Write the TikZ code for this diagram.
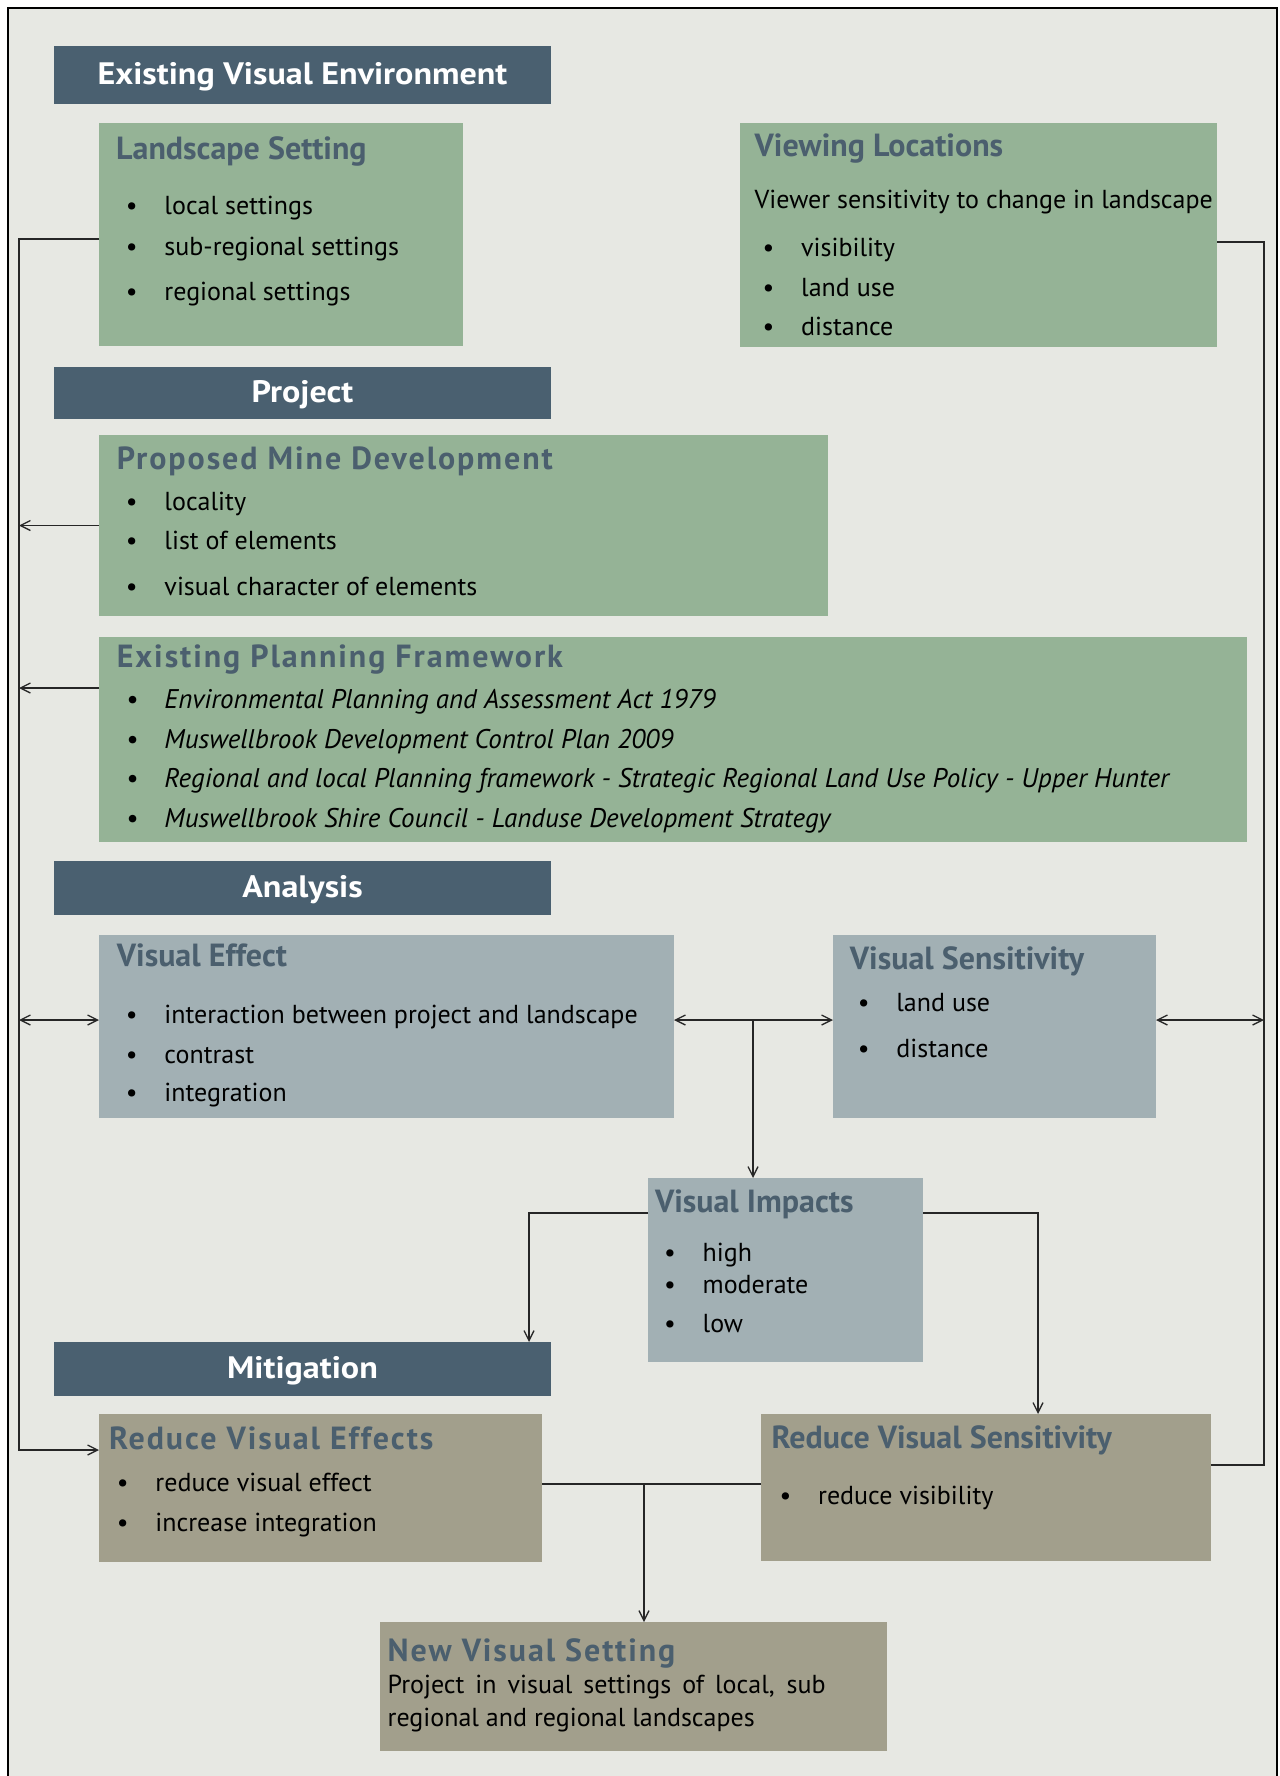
\documentclass[tikz,border=0pt]{standalone}
\usepackage{fontspec}
\setmainfont{PT Sans}
\usetikzlibrary{arrows.meta,calc}
\definecolor{bg}{HTML}{E7E8E3}
\definecolor{hdr}{HTML}{4A6070}
\definecolor{grn}{HTML}{95B396}
\definecolor{blu}{HTML}{A2B0B4}
\definecolor{kha}{HTML}{A29F8C}
\definecolor{ttl}{HTML}{4B5F6E}
\newcommand{\bul}{\makebox[38.6pt][l]{•}}
\begin{document}
\begin{tikzpicture}[x=1pt,y=-1pt,
  box/.style={anchor=north west,inner sep=0pt,outer sep=0pt,draw=none},
  hdrbox/.style={box,fill=hdr},
  hdrtxt/.style={inner sep=0pt,text=white,yshift=-2pt,font=\fontsize{31}{34}\selectfont\bfseries\addfontfeatures{FakeStretch=1.1}},
  txt/.style={anchor=mid west,inner sep=0pt,yshift=-7pt,font=\fontsize{26}{30}\selectfont},
  itx/.style={txt,font=\fontsize{27}{30}\selectfont\itshape},
  ttlt/.style={anchor=mid west,inner sep=0pt,yshift=-7pt,text=ttl,font=\fontsize{32}{36}\selectfont\bfseries},
  ttls/.style={ttlt,font=\fontsize{32}{36}\selectfont\bfseries\addfontfeatures{LetterSpace=6}},
  conn/.style={line width=1.3pt,draw=black!85},
  arr/.style={conn,-{Straight Barb[length=10pt,width=10pt]}},
  dbl/.style={conn,{Straight Barb[length=10pt,width=10pt]}-{Straight Barb[length=10pt,width=10pt]}}
]
\useasboundingbox (0,0) rectangle (1279,1776);
\fill[white] (0,0) rectangle (1279,1776);
\draw[line width=2pt,fill=bg] (8,8) rectangle (1277,1785);

% headers
\node[hdrbox,minimum width=497pt,minimum height=58pt] (eveh) at (54,46) {};
\node[hdrtxt] (evet) at (eveh.center) {Existing Visual Environment};
\node[hdrbox,minimum width=497pt,minimum height=52pt] (projh) at (54,367) {};
\node[hdrtxt] (projt) at (projh.center) {Project};
\node[hdrbox,minimum width=497pt,minimum height=54pt] (anah) at (54,861) {};
\node[hdrtxt] (anat) at (anah.center) {Analysis};
\node[hdrbox,minimum width=497pt,minimum height=54pt] (mith) at (54,1342) {};
\node[hdrtxt] (mitt) at (mith.center) {Mitigation};

% boxes
\node[box,fill=grn,minimum width=364pt,minimum height=223pt] (ls) at (99,123) {};
\node[box,fill=grn,minimum width=477pt,minimum height=224pt] (vl) at (740,123) {};
\node[box,fill=grn,minimum width=729pt,minimum height=181pt] (pmd) at (99,435) {};
\node[box,fill=grn,minimum width=1148pt,minimum height=205pt] (epf) at (99,637) {};
\node[box,fill=blu,minimum width=575pt,minimum height=183pt] (ve) at (99,935) {};
\node[box,fill=blu,minimum width=323pt,minimum height=183pt] (vs) at (833,935) {};
\node[box,fill=blu,minimum width=275pt,minimum height=184pt] (vi) at (648,1178) {};
\node[box,fill=kha,minimum width=443pt,minimum height=148pt] (rve) at (99,1414) {};
\node[box,fill=kha,minimum width=450pt,minimum height=147pt] (rvs) at (761,1414) {};
\node[box,fill=kha,minimum width=507pt,minimum height=129pt] (nvs) at (380,1622) {};

% Landscape Setting
\node[ttlt] (lst) at (116,150) {Landscape Setting};
\node[txt] (ls1) at (125.7,205) {\bul local settings};
\node[txt] (ls2) at (125.7,246) {\bul sub-regional settings};
\node[txt] (ls3) at (125.7,291) {\bul regional settings};

% Viewing Locations
\node[ttlt] (vlt) at (754.5,147) {Viewing Locations};
\node[txt] (vl0) at (754.5,199.4) {Viewer sensitivity to change in landscape};
\node[txt] (vl1) at (762.4,247) {\bul visibility};
\node[txt] (vl2) at (762.4,286.6) {\bul land use};
\node[txt] (vl3) at (762.4,326.3) {\bul distance};

% Proposed Mine Development
\node[ttls] (pmdt) at (116.7,460) {Proposed Mine Development};
\node[txt] (pm1) at (125.7,500.7) {\bul locality};
\node[txt] (pm2) at (125.7,540.4) {\bul list of elements};
\node[txt] (pm3) at (125.7,585.7) {\bul visual character of elements};

% Existing Planning Framework
\node[ttls] (epft) at (116.7,658.2) {Existing Planning Framework};
\node[itx] (ep1) at (125.7,699) {\bul Environmental Planning and Assessment Act 1979};
\node[itx] (ep2) at (125.7,738.6) {\bul Muswellbrook Development Control Plan 2009};
\node[itx] (ep3) at (125.7,778.3) {\bul Regional and local Planning framework - Strategic Regional Land Use Policy - Upper Hunter};
\node[itx] (ep4) at (125.7,818) {\bul Muswellbrook Shire Council - Landuse Development Strategy};

% Visual Effect
\node[ttlt] (vet) at (116.7,957.3) {Visual Effect};
\node[txt] (ve1) at (125.7,1014) {\bul interaction between project and landscape};
\node[txt] (ve2) at (125.7,1053.6) {\bul contrast};
\node[txt] (ve3) at (125.7,1092.1) {\bul integration};

% Visual Sensitivity
\node[ttlt] (vst) at (849.7,959.6) {Visual Sensitivity};
\node[txt] (vs1) at (857.6,1001.5) {\bul land use};
\node[txt] (vs2) at (857.6,1048) {\bul distance};

% Visual Impacts
\node[ttlt] (vit) at (654.8,1203.1) {Visual Impacts};
\node[txt] (vi1) at (663.9,1251.9) {\bul high};
\node[txt] (vi2) at (663.9,1283.6) {\bul moderate};
\node[txt] (vi3) at (663.9,1323.2) {\bul low};

% Reduce Visual Effects
\node[ttls] (rvet) at (108.8,1440) {Reduce Visual Effects};
\node[txt] (rve1) at (116.7,1481.8) {\bul reduce visual effect};
\node[txt] (rve2) at (116.7,1521.5) {\bul increase integration};

% Reduce Visual Sensitivity
\node[ttlt] (rvst) at (771.5,1438.8) {Reduce Visual Sensitivity};
\node[txt] (rvs1) at (779.4,1495.4) {\bul reduce visibility};

% New Visual Setting
\node[ttls] (nvst) at (387.5,1651.8) {New Visual Setting};
\node[anchor=north west,inner sep=0pt,text width=438pt,align=justify,
  font=\fontsize{26}{33}\selectfont] (nvs1) at (387.5,1675) {Project in visual settings of local, sub\linebreak regional and regional landscapes};

% connector helper coordinates
\coordinate (L) at (19,0);
\coordinate (R) at (1264,0);
\coordinate (ry) at (0,1020);
\coordinate (lsA) at ($(ls.north west)+(0,116)$);
\coordinate (epfA) at ($(epf.north west)+(0,51)$);
\coordinate (rveA) at ($(rve.north west)+(0,36)$);
\coordinate (vlA) at ($(vl.north east)+(0,119)$);
\coordinate (rvsA) at ($(rvs.north east)+(0,51)$);
\coordinate (vimy) at (0,1213);
\coordinate (bx) at (753,0);
\coordinate (mx) at (529,0);
\coordinate (rx) at (1038,0);
\coordinate (ny) at (0,1484);
\coordinate (nx) at (644,0);

% left spine
\draw[arr] (lsA) -- (L |- lsA) -- (L |- rveA) -- (rveA);
\draw[arr] (pmd.west) -- (L |- pmd.west);
\draw[arr] (epfA) -- (L |- epfA);
\draw[dbl] (L |- ry) -- (ve.west |- ry);
% middle
\draw[dbl] (ve.east |- ry) -- (vs.west |- ry);
\draw[arr] (bx |- ry) -- (bx |- vi.north);
\draw[dbl] (vs.east |- ry) -- (R |- ry);
% right spine
\draw[conn] (vlA) -- (R |- vlA) -- (R |- rvsA) -- (rvsA);
% visual impacts
\draw[arr] (vi.west |- vimy) -| (mx |- mith.north);
\draw[arr] (vi.east |- vimy) -| (rx |- rvs.north);
% mitigation to new setting
\draw[conn] (rve.east |- ny) -- (rvs.west |- ny);
\draw[arr] (nx |- ny) -- (nx |- nvs.north);
\end{tikzpicture}
\end{document}
